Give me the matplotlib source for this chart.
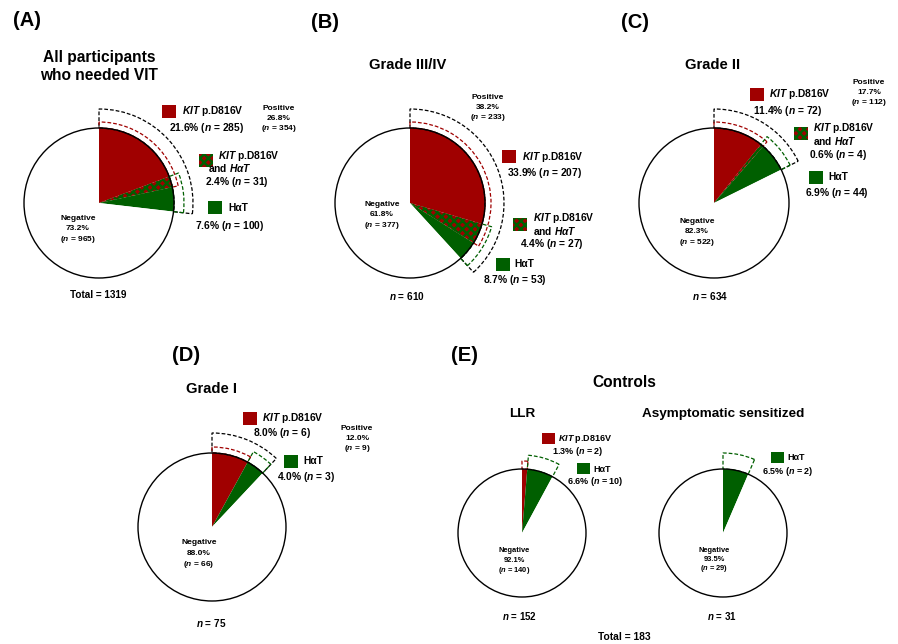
import matplotlib
matplotlib.use("Agg")
import matplotlib.pyplot as plt
from matplotlib.patches import Wedge, Circle, Rectangle

plt.rcParams['font.family'] = ['Liberation Sans', 'DejaVu Sans']
plt.rcParams['font.weight'] = 'bold'
plt.rcParams['mathtext.fontset'] = 'custom'
plt.rcParams['mathtext.rm'] = 'Liberation Sans:bold'
plt.rcParams['mathtext.it'] = 'Liberation Sans:italic:bold'
plt.rcParams['mathtext.bf'] = 'Liberation Sans:bold'
plt.rcParams['hatch.linewidth'] = 1.7

# counts per group: A all VIT, B grade III/IV, C grade II, D grade I, E LLR, E asymptomatic
groups = ['All participants\nwho needed VIT', 'Grade III/IV', 'Grade II', 'Grade I', 'LLR', 'Asymptomatic sensitized']
kit_n = [285, 207, 72, 6, 2, 0]      # KIT p.D816V (includes both)
both_n = [31, 27, 4, 0, 0, 0]        # KIT p.D816V and HaT
hat_n = [100, 53, 44, 3, 10, 2]      # HaT (includes both)
neg_n = [965, 377, 522, 66, 140, 29]
pos_n = [354, 233, 112, 9, 12, 2]
total_n = [1319, 610, 634, 75, 152, 31]
controls_total = 183

RED = '#a00000'
GREEN = '#005f00'
HATCH = 'xxxx'
W, H = 898, 644

fig = plt.figure(figsize=(W / 100, H / 100), dpi=100)
ax = fig.add_axes([0, 0, 1, 1])


def Y(y):
    return H - y


def pct(n, i):
    return '{:.1f}%'.format(100.0 * n / total_n[i])


def txt(x, y, s, size=7.4, ha='center', **kw):
    ax.text(x, Y(y), s, ha=ha, va='center', fontsize=size, fontweight='bold', **kw)


def square(x, y, color, hatch=None, w=14, h=13):
    r = Rectangle((x, Y(y + h)), w, h, facecolor=color, edgecolor=GREEN if hatch else color,
                  lw=0, hatch=hatch)
    ax.add_patch(r)


def pie(i, cx, cy, r, dr_red=6, dr_green=10, dr_black=19, black=True):
    vals = [kit_n[i] - both_n[i], both_n[i], hat_n[i] - both_n[i], neg_n[i]]
    wedges, _ = ax.pie(vals, colors=[RED, RED, GREEN, 'white'], startangle=90,
                       counterclock=False, center=(cx, Y(cy)), radius=r,
                       wedgeprops=dict(linewidth=0), frame=True,
                       hatch=['', HATCH, '', ''])
    wedges[1].set_edgecolor(GREEN)
    tot = float(sum(vals))

    def arc(a, b, dr, color):
        if b - a <= 0:
            return
        t1 = 90 - 360 * b / tot
        t2 = 90 - 360 * a / tot
        ax.add_patch(Wedge((cx, Y(cy)), r + dr, t1, t2, width=dr, fill=False,
                           ec=color, ls=(0, (3, 1.6)), lw=0.9))

    if black:
        arc(0, kit_n[i] + hat_n[i] - both_n[i], dr_black, 'black')
    arc(0, kit_n[i], dr_red, RED)
    arc(kit_n[i] - both_n[i], kit_n[i] + hat_n[i] - both_n[i], dr_green, GREEN)
    ax.add_patch(Circle((cx, Y(cy)), r, fill=False, ec='black', lw=1.0))


def neg_label(i, x, y, size=6.0, dy=10.5):
    txt(x, y, 'Negative', size)
    txt(x, y + dy, pct(neg_n[i], i), size)
    txt(x, y + 2 * dy, '($n$ = {})'.format(neg_n[i]), size)


def pos_label(i, x, y, size=6.0, dy=10.0):
    txt(x, y, 'Positive', size)
    txt(x, y + dy, pct(pos_n[i], i), size)
    txt(x, y + 2 * dy, '($n$ = {})'.format(pos_n[i]), size)


KIT = r'$\mathit{KIT}$ p.D816V'
HAT_IT = r'and $\mathit{HαT}$'
KITHAT = KIT + '\n' + HAT_IT

# ---------------- (A)
txt(27, 20, '(A)', 14.5)
txt(99, 66, groups[0], 11.2, linespacing=1.25)
pie(0, 99, 203, 75)
square(162, 105, RED)
txt(182, 111, KIT, ha='left')
txt(207, 128, '{} ($n$ = {})'.format(pct(kit_n[0], 0), kit_n[0]))
pos_label(0, 279, 108)
square(199, 154, RED, HATCH)
txt(218, 155.5, KIT, ha='left')
txt(208, 168, HAT_IT, ha='left')
txt(237, 181.5, '{} ($n$ = {})'.format(pct(both_n[0], 0), both_n[0]))
square(208, 201, GREEN)
txt(228, 208, 'HαT', ha='left')
txt(230, 226, '{} ($n$ = {})'.format(pct(hat_n[0], 0), hat_n[0]))
neg_label(0, 78, 218)
txt(98, 295, 'Total = {}'.format(total_n[0]), 7.2)

# ---------------- (B)
txt(325, 22, '(B)', 14.5)
txt(408, 65, groups[1], 10.6)
pie(1, 410, 203, 75)
pos_label(1, 488, 97)
square(502, 150, RED)
txt(522, 157, KIT, ha='left')
txt(545, 173, '{} ($n$ = {})'.format(pct(kit_n[1], 1), kit_n[1]))
square(513, 218, RED, HATCH)
txt(533, 224, KITHAT, ha='left', linespacing=1.0)
txt(552, 244, '{} ($n$ = {})'.format(pct(both_n[1], 1), both_n[1]))
square(496, 258, GREEN)
txt(514, 264, 'HαT', ha='left')
txt(515, 280, '{} ($n$ = {})'.format(pct(hat_n[1], 1), hat_n[1]))
neg_label(1, 382, 204)
txt(407, 296, '$n$ = {}'.format(total_n[1]), 7.2)

# ---------------- (C)
txt(635, 22, '(C)', 14.5)
txt(713, 65, groups[2], 10.6)
pie(2, 714, 203, 75)
pos_label(2, 869, 82)
square(750, 88, RED)
txt(769, 94, KIT, ha='left')
txt(788, 111, '{} ($n$ = {})'.format(pct(kit_n[2], 2), kit_n[2]))
square(794, 127, RED, HATCH)
txt(813, 134, KITHAT, ha='left', linespacing=1.0)
txt(838, 155, '{} ($n$ = {})'.format(pct(both_n[2], 2), both_n[2]))
square(809, 171, GREEN)
txt(828, 177, 'HαT', ha='left')
txt(837, 193, '{} ($n$ = {})'.format(pct(hat_n[2], 2), hat_n[2]))
neg_label(2, 697, 221)
txt(710, 296, '$n$ = {}'.format(total_n[2]), 7.2)

# ---------------- (D)
txt(186, 355, '(D)', 14.5)
txt(212, 389, groups[3], 10.6)
pie(3, 212, 527, 74, dr_green=12, dr_black=20)
square(243, 412, RED)
txt(262, 418, KIT, ha='left')
txt(282, 433, '{} ($n$ = {})'.format(pct(kit_n[3], 3), kit_n[3]))
square(284, 455, GREEN)
txt(303, 461, 'HαT', ha='left')
txt(306, 477, '{} ($n$ = {})'.format(pct(hat_n[3], 3), hat_n[3]))
pos_label(3, 357, 429)
neg_label(3, 199, 543)
txt(211, 623, '$n$ = {}'.format(total_n[3]), 7.2)

# ---------------- (E)
txt(465, 355, '(E)', 14.5)
txt(624, 382, 'Controls', 11.2)
txt(522, 414, groups[4], 9.7)
txt(723, 414, groups[5], 9.7)
pie(4, 522, 533, 64, dr_red=8, dr_green=14, black=False)
square(542, 433, RED, w=13, h=11)
txt(558, 439, KIT, 6.5, ha='left')
txt(578, 452, '{} ($n$ = {})'.format(pct(kit_n[4], 4), kit_n[4]), 6.5)
square(577, 463, GREEN, w=13, h=11)
txt(593, 469, 'HαT', 6.5, ha='left')
txt(595, 482, '{} ($n$ = {})'.format(pct(hat_n[4], 4), hat_n[4]), 6.5)
neg_label(4, 514, 551, 5.4, 9.5)
txt(520, 616, '$n$ = {}'.format(total_n[4]), 7.0)

pie(5, 723, 533, 64, dr_green=16, black=False)
square(771, 452, GREEN, w=13, h=11)
txt(787, 458, 'HαT', 6.5, ha='left')
txt(788, 471, '{} ($n$ = {})'.format(pct(hat_n[5], 5), hat_n[5]), 6.5)
neg_label(5, 714, 550, 5.4, 9.5)
txt(722, 616, '$n$ = {}'.format(total_n[5]), 7.0)
txt(624, 637, 'Total = {}'.format(controls_total), 7.4)

ax.set_xlim(0, W)
ax.set_ylim(0, H)
ax.set_aspect('equal')
ax.axis('off')
fig.savefig('out.png', dpi=100, facecolor='white')
